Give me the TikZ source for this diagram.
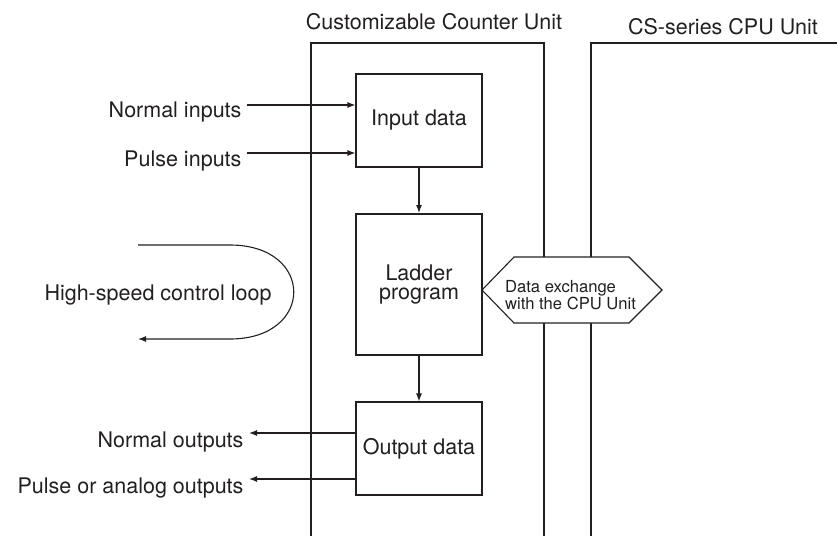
\documentclass[tikz,border=0pt]{standalone}
\usepackage{fontspec}
\setmainfont{TeX Gyre Heros}
\usepackage{tikz}
\usetikzlibrary{arrows.meta}
\definecolor{ink}{HTML}{231F20}

\begin{document}
\begin{tikzpicture}[x=1pt, y=-1pt, color=ink, line width=1.1pt,
		lbl/.style={font=\fontsize{21.5}{22}\selectfont, inner sep=0pt},
		box/.style={draw, fill=white, minimum width=126pt, minimum height=93pt, align=center, font=\fontsize{21.5}{20}\selectfont},
		arr/.style={-{Latex[length=8pt, width=6pt]}}]
			\useasboundingbox (0,0) rectangle (837,536);
			\node[lbl, anchor=base] (cnt) at (434,29) {Customizable Counter Unit};
			\node[lbl, anchor=base] (cpu) at (723,34) {CS-series CPU Unit};
			\draw (311,536) -- (311,43) -- (544,43) -- (544,536);
			\draw (591,536) -- (591,43) -- (837,43);
			\node[box] (in) at (419,120.5) {Input data};
			\node[box, line width=2pt, minimum height=141pt] (lad) at (419,284.5) {Ladder\\program};
			\node[box] (out) at (419,448.5) {Output data};
			\draw[arr] (in) -- (lad);
			\draw[arr] (lad) -- (out);
			\draw[fill=white] (482,290) -- (514,257) -- (629,257) -- (662,290) -- (629,323) -- (514,323) -- cycle;
			\node[align=left, inner sep=0pt, font=\fontsize{16.6}{17}\selectfont] (dx) at (570.5,295.5) {Data exchange\\with the CPU Unit};
			\node[lbl, anchor=base east] (ni) at (242,117) {Normal inputs};
			\node[lbl, anchor=base east] (pi) at (242,166) {Pulse inputs};
			\coordinate (nia) at ([shift={(5,-12)}]ni.base east);
			\coordinate (pia) at ([shift={(5,-13)}]pi.base east);
			\draw[arr] (nia) -- (nia -| in.west);
			\draw[arr] (pia) -- (pia -| in.west);
			\node[lbl, anchor=base east] (no) at (244,447) {Normal outputs};
			\node[lbl, anchor=base east] (po) at (244,493) {Pulse or analog outputs};
			\coordinate (noa) at ([shift={(5,-14)}]no.base east);
			\coordinate (poa) at ([shift={(5,-14)}]po.base east);
			\draw[arr] (noa -| out.west) -- (noa);
			\draw[arr] (poa -| out.west) -- (poa);
			\node[lbl, anchor=base] (loop) at (158,300) {High-speed control loop};
			\draw[arr] (138,245) -- (230,245) .. controls (315,245) and (315,339) .. (230,339) -- (138,339);
		\end{tikzpicture}
\end{document}
